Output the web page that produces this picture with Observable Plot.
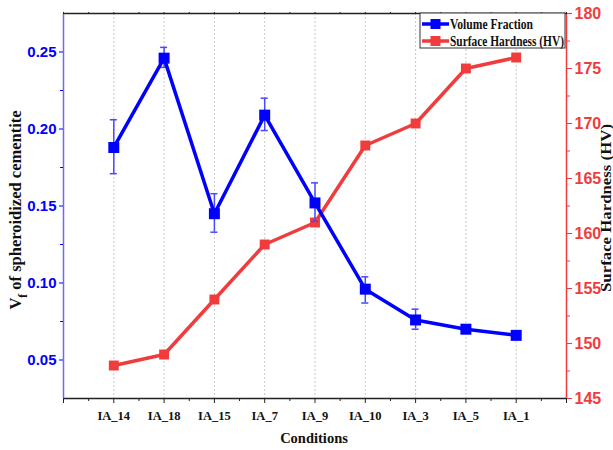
<!DOCTYPE html>
<html><head><meta charset="utf-8">
<script src="https://cdn.jsdelivr.net/npm/d3@7"></script>
<script src="https://cdn.jsdelivr.net/npm/@observablehq/plot@0.6"></script>
<style>body{margin:0;background:#fff}</style>
</head><body><div id="chart"></div>
<script>
const categories = ["IA_14","IA_18","IA_15","IA_7","IA_9","IA_10","IA_3","IA_5","IA_1"];
const volumeFraction = [0.188,0.246,0.145,0.209,0.152,0.096,0.076,0.070,0.066];
const vfErrLow  = [0.171,0.240,0.133,0.199,0.140,0.087,0.070,0.068,0.065];
const vfErrHigh = [0.206,0.253,0.158,0.220,0.165,0.104,0.083,0.072,0.067];
const hardness = [148,149,154,159,161,168,170,175,176];
const leftTicks = [0.05,0.10,0.15,0.20,0.25];
const rightTicks = [145,150,155,160,165,170,175,180];

const BLUE = "#0000ff", RED = "#f03c3c";
const yDom = [0.025,0.275], hDom = [145,180];
const toY = h => yDom[0] + (h - hDom[0]) / (hDom[1]-hDom[0]) * (yDom[1]-yDom[0]);
const fromY = y => hDom[0] + (y - yDom[0]) / (yDom[1]-yDom[0]) * (hDom[1]-hDom[0]);

const vf = categories.map((c,i)=>({x:i+1, y:volumeFraction[i], lo:vfErrLow[i], hi:vfErrHigh[i]}));
const hv = categories.map((c,i)=>({x:i+1, y:toY(hardness[i])}));

const serif = "Liberation Serif, Times New Roman, serif";
const sans = "Liberation Sans, Arial, sans-serif";

const chart = Plot.plot({
  width:613, height:450,
  marginLeft:63, marginRight:47, marginTop:13, marginBottom:52,
  x:{domain:[0,10]},
  y:{domain:yDom},
  style:{background:"#fff", overflow:"visible"},
  marks:[
    Plot.ruleX(d3.range(1,10), {stroke:"#c8c8c8", strokeDasharray:"2,2", strokeWidth:1}),
    Plot.ruleY([yDom[1]], {stroke:"#222", strokeWidth:1.5}),
    Plot.ruleY([yDom[0]], {stroke:"#222", strokeWidth:1.5}),
    Plot.ruleX([0], {stroke:"#6a6aff", strokeWidth:1.5}),
    Plot.ruleX([10], {stroke:RED, strokeWidth:1.5}),
    Plot.axisX({ticks:d3.range(0,11), tickSize:5, tickPadding:8, stroke:"#222",
      tickFormat:d=>categories[d-1] ?? "", label:null,
      fontFamily:serif, fontWeight:"bold", fontSize:12.5, fill:"#111"}),
    Plot.axisX({ticks:d3.range(0.5,10,1), tickSize:3, tickFormat:()=>"", label:null, stroke:"#222"}),
    Plot.axisX({anchor:"top", ticks:d3.range(0,10.5,0.5), tickSize:2, tickFormat:()=>"", label:null, stroke:"#222"}),
    Plot.axisY({ticks:leftTicks, tickSize:4, tickPadding:3, tickFormat:d3.format(".2f"), stroke:BLUE,
      label:null, fill:BLUE, fontFamily:sans, fontWeight:"bold", fontSize:15}),
    Plot.axisY({ticks:d3.range(0.075,0.275,0.05), tickSize:3, tickFormat:()=>"", stroke:BLUE, label:null}),
    Plot.axisY({anchor:"right", ticks:rightTicks.map(toY), tickSize:5, tickPadding:3,
      tickFormat:d=>String(Math.round(fromY(d))), stroke:RED, fill:RED, label:null,
      fontFamily:sans, fontWeight:"bold", fontSize:16}),
    Plot.axisY({anchor:"right", ticks:d3.range(147.5,180,5).map(toY), tickSize:3, tickFormat:()=>"", stroke:RED, label:null}),
    Plot.line(hv, {x:"x", y:"y", stroke:RED, strokeWidth:3.5}),
    Plot.dot(hv, {x:"x", y:"y", symbol:"square", r:5.6, fill:RED, stroke:null}),
    Plot.ruleX(vf, {x:"x", y1:"lo", y2:"hi", stroke:"#4848ff", strokeWidth:1.5}),
    Plot.ruleY(vf, {y:"lo", x1:d=>d.x-0.07, x2:d=>d.x+0.07, stroke:"#4848ff", strokeWidth:1.5}),
    Plot.ruleY(vf, {y:"hi", x1:d=>d.x-0.07, x2:d=>d.x+0.07, stroke:"#4848ff", strokeWidth:1.5}),
    Plot.line(vf, {x:"x", y:"y", stroke:BLUE, strokeWidth:3.5}),
    Plot.dot(vf, {x:"x", y:"y", symbol:"square", r:6.2, fill:BLUE, stroke:null})
  ]
});
document.getElementById("chart").appendChild(chart);

const svg = d3.select(chart);
// axis titles
const lt = svg.append("text").attr("transform","translate(21,210) rotate(-90)")
  .attr("text-anchor","middle").attr("font-family",serif).attr("font-weight","bold")
  .attr("font-size",16.5).attr("fill","#111");
lt.append("tspan").text("V");
lt.append("tspan").attr("baseline-shift","sub").attr("font-size",11.5).text("f");
lt.append("tspan").text(" of spheroidized cementite");

svg.append("text").attr("transform","translate(611,208) rotate(-90)")
  .attr("text-anchor","middle").attr("font-family",serif).attr("font-weight","bold")
  .attr("textLength",168).attr("lengthAdjust","spacingAndGlyphs")
  .attr("font-size",14.5).attr("fill","#111").text("Surface Hardness (HV)");

svg.append("text").attr("x",314).attr("y",443).attr("text-anchor","middle")
  .attr("font-family",serif).attr("font-weight","bold").attr("font-size",14.5).attr("fill","#111")
  .text("Conditions");

// legend
const lg = svg.append("g").attr("text-anchor","start");
lg.append("rect").attr("x",420).attr("y",13).attr("width",145).attr("height",35)
  .attr("fill","#fff").attr("stroke","#333").attr("stroke-width",1);
const items = [["Volume Fraction",BLUE,24,83],["Surface Hardness (HV)",RED,41,114]];
for (const [t,c,yy,len] of items) {
  lg.append("line").attr("x1",422).attr("x2",449).attr("y1",yy).attr("y2",yy).attr("stroke",c).attr("stroke-width",3.5);
  lg.append("rect").attr("x",430.5).attr("y",yy-5).attr("width",10).attr("height",10).attr("fill",c);
  lg.append("text").attr("x",450).attr("y",yy).attr("dy","0.35em").attr("font-family",serif)
    .attr("textLength",len).attr("lengthAdjust","spacingAndGlyphs")
    .attr("text-anchor","start").attr("font-weight","bold").attr("font-size",14.5).attr("fill","#111").text(t);
}
</script>
</body></html>
